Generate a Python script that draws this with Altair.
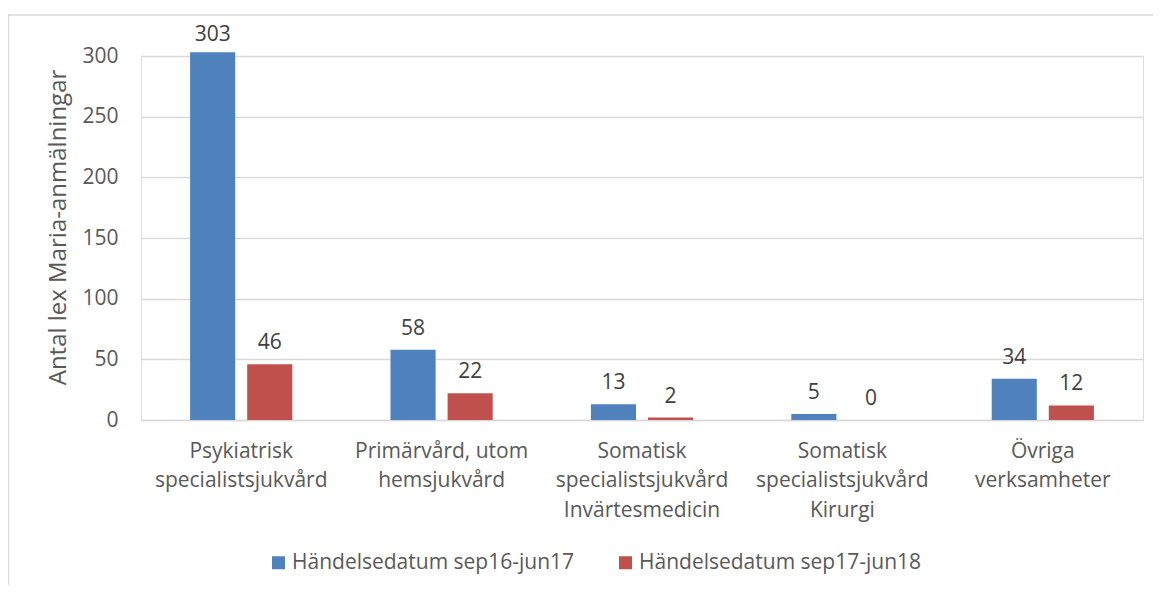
import altair as alt
import pandas as pd

categories = [
    "Psykiatrisk specialistsjukvård",
    "Primärvård, utom hemsjukvård",
    "Somatisk specialistsjukvård Invärtesmedicin",
    "Somatisk specialistsjukvård Kirurgi",
    "Övriga verksamheter",
]
label_lines = [
    ["Psykiatrisk", "specialistsjukvård"],
    ["Primärvård, utom", "hemsjukvård"],
    ["Somatisk", "specialistsjukvård", "Invärtesmedicin"],
    ["Somatisk", "specialistsjukvård", "Kirurgi"],
    ["Övriga", "verksamheter"],
]
series = ["Händelsedatum sep16-jun17", "Händelsedatum sep17-jun18"]
values_1617 = [303, 58, 13, 5, 34]
values_1718 = [46, 22, 2, 0, 12]
colors = ["#4F81BD", "#C0504D"]
y_ticks = [0, 50, 100, 150, 200, 250, 300]

rows = []
for c, a, b in zip(categories, values_1617, values_1718):
    rows.append({"kategori": c, "serie": series[0], "antal": a})
    rows.append({"kategori": c, "serie": series[1], "antal": b})
df = pd.DataFrame(rows)

label_expr = ""
for c, lines in zip(categories, label_lines):
    arr = "[" + ",".join("'" + l + "'" for l in lines) + "]"
    label_expr += f"datum.label == '{c}' ? {arr} : "
label_expr += "datum.label"

FONT = "Open Sans"
FS = 21
W, H = 1002, 364

x = alt.X(
    "kategori:N",
    sort=categories,
    scale=alt.Scale(paddingInner=0.49, paddingOuter=0.245),
    axis=alt.Axis(
        title=None, labelAngle=0, ticks=False, domain=True, domainColor="#D9D9D9",
        domainWidth=1.3, labelExpr=label_expr, labelFont=FONT, labelFontSize=FS,
        labelColor="#595959", labelPadding=20, labelLineHeight=29.5, labelLimit=300,
    ),
)
xoff = alt.XOffset("serie:N", sort=series, scale=alt.Scale(paddingInner=0.21, paddingOuter=0))
y = alt.Y(
    "antal:Q",
    scale=alt.Scale(domain=[0, 300], nice=False),
    axis=alt.Axis(
        title="Antal lex Maria-anmälningar", values=y_ticks, ticks=False, domain=False,
        gridColor="#D9D9D9", gridWidth=1.3, labelFont=FONT, labelFontSize=FS,
        labelColor="#595959", labelPadding=23, titleFont=FONT, titleFontSize=24,
        titleColor="#595959", titleFontWeight="normal", titleAngle=-90,
        titleX=-83, titleY=171, titleAlign="center", titleBaseline="middle",
    ),
)

bars = alt.Chart(df).mark_bar().encode(
    x=x, xOffset=xoff, y=y,
    color=alt.Color(
        "serie:N", sort=series, scale=alt.Scale(domain=series, range=colors),
        legend=alt.Legend(
            title=None, orient="none", direction="horizontal", legendX=127, legendY=496,
            symbolType="square", symbolSize=169, symbolStrokeWidth=0, labelFont=FONT,
            labelFontSize=FS, labelColor="#595959", labelOffset=3, columnPadding=40,
            labelLimit=400,
        ),
    ),
)

labels = alt.Chart(df).transform_calculate(
    pos="min(datum.antal, 300)"
).mark_text(baseline="alphabetic", dy=-15, font=FONT, fontSize=FS, color="#404040").encode(
    x=x, xOffset=xoff, y=alt.Y("pos:Q", scale=alt.Scale(domain=[0, 300], nice=False)),
    text="antal:Q",
)

frame = alt.Chart(pd.DataFrame({"a": [0]})).mark_rect(
    fill=None, stroke="#D9D9D9", strokeWidth=1.3
).encode(x=alt.value(-132.5), x2=alt.value(1030), y=alt.value(-41), y2=alt.value(560))

chart = alt.layer(frame, bars, labels).properties(
    width=W, height=H,
    autosize=alt.AutoSizeParams(type="none"),
    padding={"left": 133, "top": 48, "right": 10, "bottom": 165},
).configure_view(stroke=None).configure(background="white")

chart.save("out.html", embed_options={"renderer": "svg", "actions": False})
